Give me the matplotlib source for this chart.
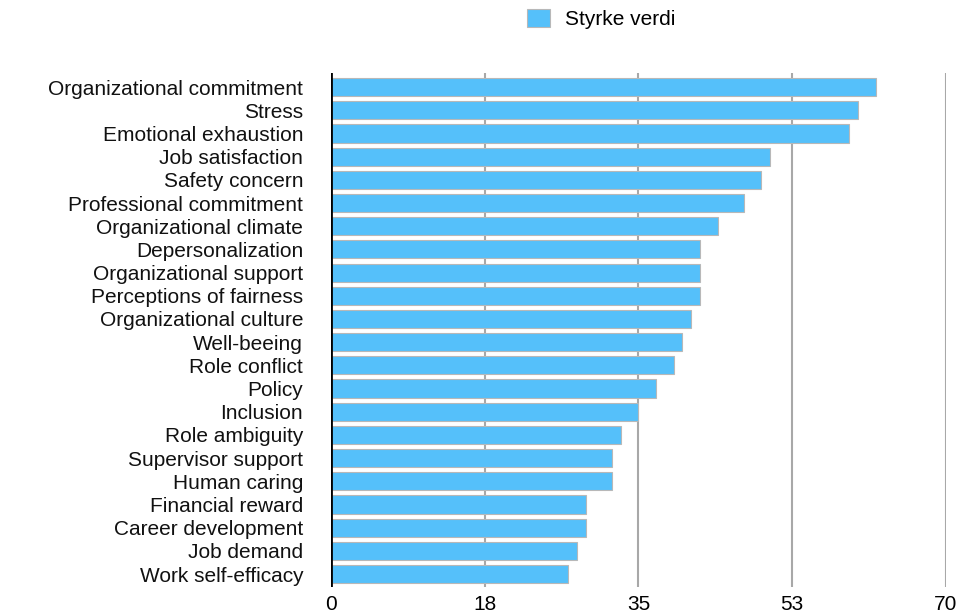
import matplotlib.pyplot as plt
import numpy as np

plt.rcParams['font.family'] = ['Liberation Sans', 'DejaVu Sans']

categories = [
    "Organizational commitment",
    "Stress",
    "Emotional exhaustion",
    "Job satisfaction",
    "Safety concern",
    "Professional commitment",
    "Organizational climate",
    "Depersonalization",
    "Organizational support",
    "Perceptions of fairness",
    "Organizational culture",
    "Well-beeing",
    "Role conflict",
    "Policy",
    "Inclusion",
    "Role ambiguity",
    "Supervisor support",
    "Human caring",
    "Financial reward",
    "Career development",
    "Job demand",
    "Work self-efficacy",
]
values = [62, 60, 59, 50, 49, 47, 44, 42, 42, 42, 41, 40, 39, 37, 35, 33, 32, 32, 29, 29, 28, 27]
x_ticks = [0, 17.5, 35, 52.5, 70]
x_tick_labels = ["0", "18", "35", "53", "70"]

fig = plt.figure(figsize=(9.62, 6.15), dpi=100)
ax = fig.add_axes([0.344, 0.0455, 0.6394, 0.8355])

y = np.arange(len(categories))
bars = ax.barh(y, values, height=0.78, color='#55C0FA', edgecolor='#B8B8B8',
               linewidth=0.8, label='Styrke verdi', zorder=3)

ax.set_xlim(0, 70)
ax.set_ylim(len(categories) - 0.44, -0.6)
ax.set_xticks(x_ticks)
ax.set_xticklabels(x_tick_labels, fontsize=15)
ax.set_yticks(y)
ax.set_yticklabels(categories, fontsize=15, color='#111111')
ax.tick_params(axis='y', length=0, pad=20)
ax.tick_params(axis='x', length=0, pad=6)

# vertical grid lines, zero line drawn separately in black
for t in x_ticks[1:]:
    ax.axvline(t, color='#A8A8A8', linewidth=1.5, zorder=1)
ax.axvline(0, color='black', linewidth=2, zorder=4)

for s in ax.spines.values():
    s.set_visible(False)

fig.legend(handles=[bars], loc='center left', bbox_to_anchor=(0.548, 0.969),
           frameon=False, fontsize=15, handlelength=1.1, handleheight=1.0,
           handletextpad=0.7, borderaxespad=0, borderpad=0)

fig.savefig('out.png', dpi=100)
